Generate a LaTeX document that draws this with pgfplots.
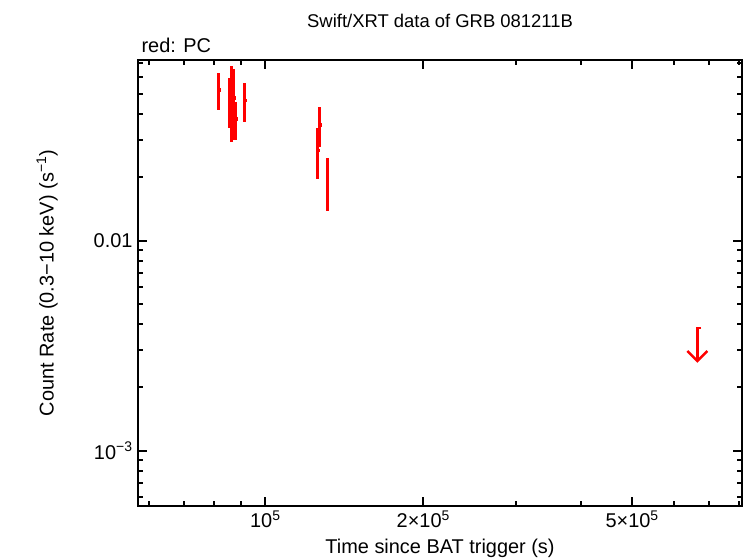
\documentclass[border=0pt]{standalone}
\usepackage{pgfplots}
\pgfplotsset{compat=1.18}
\usepackage{pgfplotstable}
\usepackage{fontspec}
\setmainfont{Liberation Sans}
\usetikzlibrary{arrows.meta}
\pgfplotstableread{
x y ex ey
81500 0.0522 600 0.0105
85520 0.0470 600 0.0127
86270 0.0488 600 0.0192
87200 0.0480 600 0.0178
87880 0.0380 600 0.0079
91340 0.0466 600 0.0098
125700 0.0270 800 0.0074
126800 0.0356 800 0.0077
131200 0.0193 800 0.0055
}\pcdata
\begin{document}
\begin{tikzpicture}
\begin{axis}[
  at={(0,0)}, anchor=south west,
  scale only axis, width=604bp, height=446bp,
  xmode=log, ymode=log,
  xmin=57200, xmax=810000,
  ymin=5.45e-4, ymax=0.0725,
  axis line style={line width=2bp},
  every tick/.style={line width=2bp, black},
  major tick length=9bp, minor tick length=5bp,
  tick align=inside,
  xtick={1e5,2e5,5e5},
  xticklabels={10\textsuperscript{5},2×10\textsuperscript{5},5×10\textsuperscript{5}},
  minor xtick={6e4,7e4,8e4,9e4,3e5,4e5,6e5,7e5,8e5},
  ytick={1e-3,1e-2},
  yticklabels={10\textsuperscript{−3},0.01},
  minor ytick={6e-4,7e-4,8e-4,9e-4,2e-3,3e-3,4e-3,5e-3,6e-3,7e-3,8e-3,9e-3,2e-2,3e-2,4e-2,5e-2,6e-2,7e-2},
  ticklabel style={font=\fontsize{20}{22}\selectfont},
  xticklabel style={yshift=-1bp},
  yticklabel style={xshift=-2bp},
  xlabel={Time since BAT trigger (s)},
  ylabel={Count Rate (0.3−10 keV) (s\textsuperscript{−1})},
  label style={font=\fontsize{20}{22}\selectfont},
  xlabel style={at={(rel axis cs:0.5,0)}, anchor=center, yshift=-42bp},
  ylabel style={at={(rel axis cs:0,0.5)}, anchor=center, yshift=91bp},
  clip=false,
]
\addplot[red, only marks, mark=square*, mark size=1.3bp,
  error bars/.cd, x dir=both, x explicit, y dir=both, y explicit,
  error mark=none, error bar style={line width=2.7bp, red}]
  table[x=x, y=y, x error=ex, y error=ey] {\pcdata};
\addplot[red, line width=2.5bp, -{Straight Barb[length=10bp,width=20bp]}]
  coordinates {(677000,0.00383) (665800,0.00383) (665800,0.00262)};
\node[font=\fontsize{18.5}{20}\selectfont, anchor=base] at (rel axis cs:0.5,1) [yshift=33bp] {Swift/XRT data of GRB 081211B};
\node[font=\fontsize{20}{22}\selectfont, anchor=base west] at (rel axis cs:0,1) [yshift=8bp] {red: PC};
\end{axis}
\pgfresetboundingbox
\path[use as bounding box] (-138bp,-52bp) rectangle (608bp,506bp);
\end{tikzpicture}
\end{document}
